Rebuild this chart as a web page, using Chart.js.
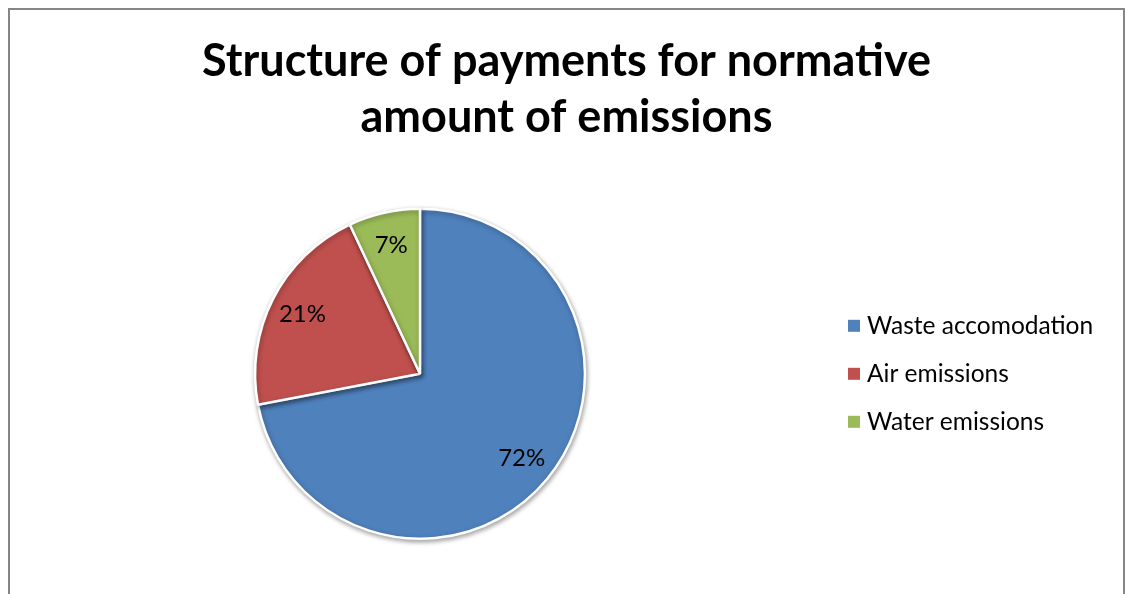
<!DOCTYPE html>
<html>
<head>
<meta charset="utf-8">
<script src="https://cdn.jsdelivr.net/npm/chart.js@4/dist/chart.umd.min.js"></script>
<style>
  html, body { margin: 0; padding: 0; background: #ffffff; overflow: hidden; }
  #frame { position: absolute; left: 8px; top: 8px; width: 1113px; height: 600px; border: 2px solid #868686; background: #fff; }
  #wrap { position: relative; width: 1113px; height: 600px; }
</style>
</head>
<body>
<div id="frame"><div id="wrap"><canvas id="c"></canvas></div></div>
<script>
const titleLines = ['Structure of payments for normative', 'amount of emissions'];
const categories = ['Waste accomodation', 'Air emissions', 'Water emissions'];
const values = [72, 21, 7];
const colors = ['#4F81BD', '#C0504D', '#9BBB59'];

const FONT = 'Lato, "Open Sans", "Liberation Sans", sans-serif';
const LEGEND_W = 293;
const hasLayouts = !!(Chart.layouts && Chart.layouts.addBox);

const labelPlugin = {
  id: 'sliceLabels',
  afterDatasetsDraw(chart) {
    const ctx = chart.ctx;
    const meta = chart.getDatasetMeta(0);
    ctx.save();
    ctx.font = '24px ' + FONT;
    ctx.fillStyle = '#000';
    ctx.textAlign = 'center';
    ctx.textBaseline = 'middle';
    meta.data.forEach((arc, i) => {
      const mid = (arc.startAngle + arc.endAngle) / 2;
      const r = arc.outerRadius * 0.8;
      ctx.fillText(values[i] + '%', arc.x + Math.cos(mid) * r, arc.y + Math.sin(mid) * r);
    });
    ctx.restore();
  }
};

const shadowPlugin = {
  id: 'pieShadow',
  beforeDatasetsDraw(chart) {
    const ctx = chart.ctx;
    ctx.save();
    ctx.shadowColor = 'rgba(0,0,0,0.35)';
    ctx.shadowBlur = 5;
    ctx.shadowOffsetX = 1;
    ctx.shadowOffsetY = 2;
  },
  afterDatasetsDraw(chart) {
    chart.ctx.restore();
  }
};

function drawLegend(chart, left) {
  const ctx = chart.ctx;
  const area = chart.chartArea;
  const x0 = left + 18;
  const rowGap = 48;
  const cy = (area.top + area.bottom) / 2;
  const y0 = cy - rowGap * (categories.length - 1) / 2;
  ctx.save();
  ctx.font = '24.5px ' + FONT;
  ctx.textAlign = 'left';
  ctx.textBaseline = 'middle';
  categories.forEach((name, i) => {
    const y = y0 + i * rowGap;
    ctx.fillStyle = colors[i];
    ctx.fillRect(x0, y - 6, 12, 12);
    ctx.fillStyle = '#000';
    ctx.fillText(name, x0 + 19, y);
  });
  ctx.restore();
}

// legend as a layout box on the right side (keeps the title centred on the full width)
const sideLegend = {
  id: 'sideLegend',
  beforeInit(chart) {
    if (!hasLayouts) return;
    const box = {
      position: 'right', weight: 0, fullSize: false, options: {},
      left: 0, top: 0, right: 0, bottom: 0, width: 0, height: 0,
      isHorizontal() { return false; },
      getPadding() { return { top: 0, left: 0, right: 0, bottom: 0 }; },
      update(maxWidth, maxHeight) { this.width = LEGEND_W; this.height = maxHeight; },
      draw() { drawLegend(chart, this.left); }
    };
    Chart.layouts.addBox(chart, box);
  },
  afterDraw(chart) {
    if (!hasLayouts) drawLegend(chart, chart.chartArea.right);
  }
};

new Chart(document.getElementById('c'), {
  type: 'pie',
  data: {
    labels: categories,
    datasets: [{
      data: values,
      backgroundColor: colors,
      borderColor: '#ffffff',
      borderWidth: 2.5,
      hoverOffset: 0
    }]
  },
  options: {
    responsive: true,
    maintainAspectRatio: false,
    animation: false,
    layout: { padding: { left: 0, right: hasLayouts ? 0 : LEGEND_W, top: 0, bottom: 70 } },
    plugins: {
      title: {
        display: true,
        text: titleLines,
        color: '#000',
        font: { family: FONT, size: 45, weight: 'bold', lineHeight: 1.24 },
        padding: { top: 24, bottom: 62 }
      },
      legend: { display: false },
      tooltip: { enabled: false }
    }
  },
  plugins: [shadowPlugin, labelPlugin, sideLegend]
});
</script>
</body>
</html>
